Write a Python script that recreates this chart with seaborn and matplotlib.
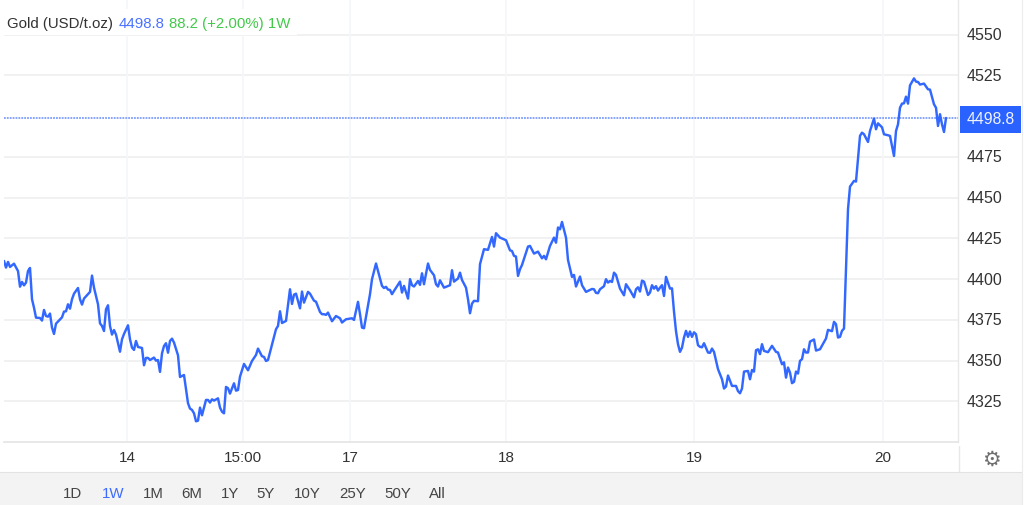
import matplotlib
matplotlib.use("Agg")
import matplotlib.pyplot as plt
from matplotlib.patches import Rectangle
from matplotlib.transforms import ScaledTranslation
import pandas as pd
import seaborn as sns

# chart data, bar number on the ordinal time axis and price
bars = [0, 1, 2, 3, 5, 7, 8, 9, 10, 11, 12, 13, 14, 15, 16, 18, 19, 20, 21, 22, 23, 24, 25, 26, 27, 29, 30, 31, 32, 33, 34, 35, 37, 38, 39, 40, 43, 44, 45, 47, 48, 49, 50, 51, 52, 53, 54, 55, 56, 58, 59, 60, 62, 63, 64, 65, 66, 67, 69, 70, 71, 72, 73, 75, 76, 77, 78, 79, 80, 81, 82, 83, 84, 85, 87, 88, 90, 92, 93, 94, 95, 96, 97, 98, 99, 101, 102, 103, 104, 105, 107, 108, 109, 110, 111, 112, 113, 115, 116, 117, 118, 120, 122, 124, 126, 127, 129, 130, 131, 132, 136, 137, 138, 139, 141, 143, 144, 145, 146, 148, 149, 150, 152, 153, 155, 156, 158, 159, 160, 161, 162, 164, 166, 168,
        169, 171, 174, 175, 177, 178, 179, 180, 183, 184, 186, 187, 189, 190, 191, 192, 193, 194, 195, 198, 199, 200, 202, 203, 204, 205, 207, 208, 209, 210, 212, 213, 215, 216, 217, 218, 220, 223, 224, 225, 227, 228, 229, 231, 232, 233, 234, 235, 237, 238, 240, 242, 244, 245, 246, 248, 251, 253, 254, 255, 256, 257, 258, 259, 262, 263, 265, 267, 269, 270, 271, 273, 275, 276, 277, 278, 279, 281, 282, 284, 285, 286, 288, 289, 291, 294, 295, 296, 297, 298, 300, 301, 302, 303, 304, 305, 306, 308, 310, 311, 313, 315, 316, 317, 318, 319, 320, 322, 323, 324, 325, 326, 327, 328, 329, 330, 331, 333, 334,
        335, 336, 337, 338, 339, 340, 341, 342, 343, 344, 345, 346, 347, 348, 349, 350, 352, 353, 354, 355, 357, 359, 360, 361, 362, 364, 366, 367, 368, 369, 370, 372, 373, 374, 375, 376, 377, 378, 379, 380, 382, 384, 386, 387, 389, 390, 391, 392, 393, 394, 395, 396, 397, 398, 399, 400, 401, 402, 403, 405, 406, 408, 411, 412, 414, 415, 416, 417, 418, 419, 420, 421,
        422, 423, 425, 426, 428, 429, 430, 432, 433, 435, 436, 437, 439, 440, 442, 443, 445, 446, 447, 448, 449, 450, 451, 452, 453, 455, 456, 457, 458, 460, 462, 463, 465, 466, 467, 468, 469, 470, 471]
prices = [4411.1, 4407.0, 4410.5, 4407.4, 4409.4, 4404.9, 4395.3, 4398.2, 4396.1, 4397.8, 4404.9, 4406.8, 4387.6, 4382.4, 4376.3, 4376.1, 4374.5, 4381.0, 4377.3, 4376.9, 4378.8, 4370.2, 4366.3, 4372.6, 4373.9, 4376.5, 4380.0, 4380.2, 4384.5, 4381.8, 4387.6, 4391.0, 4394.5, 4387.6, 4384.3, 4388.0, 4392.1, 4402.1, 4394.7, 4384.5, 4372.8, 4371.2, 4368.1, 4381.4, 4383.9, 4371.2, 4365.9, 4368.7, 4365.9, 4355.4, 4363.0, 4366.3, 4371.6, 4363.0, 4357.9, 4356.5, 4362.0, 4358.3, 4357.7, 4347.1, 4351.6, 4351.6, 4350.3, 4351.8, 4349.9, 4350.3, 4343.0, 4354.4, 4358.9, 4360.6, 4354.8, 4362.0, 4363.4, 4361.0, 4353.2, 4339.9, 4341.1, 4323.8, 4320.5, 4319.7, 4317.6, 4312.7, 4313.1, 4321.1, 4316.4, 4325.8, 4325.8, 4324.2, 4326.2, 4325.4, 4326.8, 4321.1, 4318.6, 4317.6, 4333.8, 4333.0, 4329.7, 4336.0, 4331.5, 4331.9, 4340.1, 4347.9, 4344.0, 4349.7, 4353.4, 4357.3, 4352.6, 4352.2, 4349.7, 4350.3, 4369.2, 4371.2, 4380.2, 4373.0, 4374.3, 4393.7, 4384.7, 4390.4, 4391.0, 4382.0, 4392.3, 4385.5, 4392.1, 4391.0, 4386.7, 4386.1, 4379.8, 4378.4, 4378.4, 4378.0, 4379.4, 4374.1, 4377.3, 4375.9,
          4373.3, 4375.3, 4375.9, 4374.9, 4386.0, 4378.4, 4370.2, 4369.8, 4390.7, 4399.9, 4409.5, 4405.0, 4395.8, 4394.5, 4395.2, 4393.5, 4393.3, 4390.7, 4392.7, 4398.4, 4391.7, 4395.8, 4388.0, 4399.9, 4396.2, 4395.4, 4398.8, 4396.4, 4403.5, 4396.8, 4409.5, 4405.6, 4402.3, 4396.8, 4395.4, 4399.2, 4394.7, 4396.2, 4405.4, 4398.4, 4400.3, 4403.9, 4399.4, 4394.7, 4387.6, 4379.0, 4384.9, 4386.6, 4386.4, 4409.1, 4418.3, 4417.9, 4425.8, 4419.9, 4428.1, 4425.4, 4423.8, 4417.6, 4417.2, 4414.2, 4413.8, 4401.9, 4406.0, 4408.6, 4419.9, 4420.3, 4415.6, 4416.8, 4412.7, 4414.2, 4412.1, 4420.3, 4425.4, 4422.3, 4431.6, 4430.5, 4435.0, 4425.4, 4411.7, 4401.3, 4402.5, 4395.4, 4401.5, 4396.2, 4392.1, 4393.9, 4393.7, 4391.5, 4391.3, 4393.7, 4395.6, 4399.9, 4397.8, 4398.8, 4398.2, 4403.9, 4402.5, 4394.1, 4390.0, 4396.8, 4393.1, 4388.8, 4393.7, 4394.9, 4392.3, 4399.0, 4398.4, 4390.2, 4391.7, 4396.2, 4394.1, 4395.6, 4392.9, 4394.7, 4396.2, 4389.6, 4401.3, 4394.1, 4394.3,
          4380.0, 4368.0, 4360.0, 4355.3, 4357.9, 4364.1, 4368.2, 4364.5, 4367.8, 4364.5, 4367.3, 4366.1, 4359.4, 4358.4, 4358.1, 4360.6, 4354.9, 4354.7, 4357.3, 4355.3, 4344.7, 4338.5, 4332.8, 4334.0, 4340.8, 4334.4, 4334.4, 4331.2, 4329.9, 4332.8, 4343.2, 4343.6, 4338.5, 4344.2, 4343.2, 4356.3, 4356.9, 4353.9, 4360.0, 4355.9, 4355.1, 4359.0, 4355.3, 4354.9, 4347.7, 4348.9, 4339.5, 4345.7, 4342.6, 4336.1, 4336.9, 4343.2, 4342.0, 4349.8, 4350.8, 4356.9, 4354.9, 4354.9, 4361.6, 4362.9, 4356.1, 4356.9, 4363.5, 4368.8, 4368.0, 4373.7, 4372.3, 4364.1, 4364.5, 4368.2, 4369.6, 4406.0,
          4442.8, 4456.7, 4460.2, 4459.8, 4487.8, 4489.8, 4488.8, 4484.1, 4490.8, 4498.4, 4491.9, 4495.5, 4493.1, 4488.8, 4488.2, 4487.8, 4475.5, 4490.8, 4494.9, 4505.1, 4507.6, 4507.8, 4511.9, 4507.6, 4518.8, 4523.1, 4521.1, 4520.9, 4519.3, 4519.9, 4516.4, 4516.2, 4507.2, 4505.1, 4493.9, 4501.1, 4494.9, 4490.2, 4498.8]

y_ticks = [4325, 4350, 4375, 4400, 4425, 4450, 4475, 4525, 4550]
y_labels = ["4325", "4350", "4375", "4400", "4425", "4450", "4475", "4525", "4550"]
x_tick_bars = [61.7, 119.7, 173, 251, 345, 439.6]
x_labels = ["14", "15:00", "17", "18", "19", "20"]
last_price = 4498.8
ranges = ["1D", "1W", "1M", "6M", "1Y", "5Y", "10Y", "25Y", "50Y", "All"]
range_x = [73, 113, 153, 191.5, 230, 266, 307.5, 352.5, 397.5, 437.5]

W, H = 1024, 506
LINE = "#3268ff"
TEXT = "#333333"
GRID = "#f0f0f0"


def px(x, y):
    return x / W, 1 - y / H


sns.set_style("white")
plt.rcParams["font.family"] = ["Liberation Sans", "DejaVu Sans"]

fig = plt.figure(figsize=(W / 100, H / 100), dpi=100)
ax = fig.add_axes([4 / W, (H - 443) / H, 954 / W, 443 / H])

df = pd.DataFrame({"bar": bars, "price": prices})
sns.lineplot(data=df, x="bar", y="price", ax=ax, color=LINE, linewidth=1.75,
             estimator=None, errorbar=None, zorder=5)

ax.set_xlim(0, 477)
ax.set_ylim(4300, 4571.8)
ax.set_xlabel("")
ax.set_ylabel("")

for level in y_ticks:
    ax.axhline(level, color=GRID, linewidth=1.3, zorder=1)
for t in x_tick_bars:
    ax.axvline(t, color="#f4f6f9", linewidth=1.2, zorder=1)
ax.axhline(last_price, color="#7d9dff", linewidth=1.3, linestyle=(0, (1, 0.6)), zorder=4)

ax.set_xticks(x_tick_bars)
ax.set_xticklabels(x_labels, fontsize=11, color=TEXT)
ax.yaxis.tick_right()
ax.set_yticks(y_ticks)
ax.set_yticklabels(y_labels, fontsize=11.5, color=TEXT)
ax.tick_params(axis="both", length=0)
ax.tick_params(axis="x", pad=6)
ax.tick_params(axis="y", pad=6)

# labels sit a bit above their gridlines in the original
up = ScaledTranslation(0, 1.5 / 100, fig.dpi_scale_trans)
for label in ax.get_yticklabels():
    label.set_transform(label.get_transform() + up)

for side in ["top", "left"]:
    ax.spines[side].set_visible(False)
ax.spines["bottom"].set_color("#e6e6e6")
ax.spines["bottom"].set_linewidth(1.3)
ax.spines["right"].set_color("#e8e8e8")
ax.spines["right"].set_linewidth(1.0)

# white strip behind the header text, hides the top gridline
x0, y0 = px(0, 36)
fig.add_artist(Rectangle((x0, y0), 297 / W, 26 / H, transform=fig.transFigure,
                         facecolor="white", edgecolor="none", zorder=6))
header = [(7, "Gold (USD/t.oz)", "#333333"), (119, "4498.8", "#4a72ff"),
          (169, "88.2 (+2.00%) 1W", "#43c94a")]
for x, s, c in header:
    fig.text(*px(x, 24), s, fontsize=10.8, color=c, va="center", ha="left", zorder=7)

# last price tag
x0, y0 = px(960, 134)
fig.add_artist(Rectangle((x0, y0), 61 / W, 27 / H, transform=fig.transFigure,
                         facecolor="#2962ff", edgecolor="none", zorder=6))
fig.text(*px(990.5, 120), f"{last_price}", fontsize=11.3, color="#f0f3ff",
         va="center", ha="center", zorder=7)

# right axis runs down to the range bar, range bar along the bottom
fig.add_artist(plt.Line2D([958.5 / W, 958.5 / W], [1 - 447 / H, 1 - 473 / H],
                          color="#e8e8e8", linewidth=1.0))
x0, y0 = px(0, 506)
fig.add_artist(Rectangle((x0, y0), 1022 / W, 33 / H, transform=fig.transFigure,
                         facecolor="#f3f3f3", edgecolor="none"))
fig.add_artist(plt.Line2D([0, 1022 / W], [1 - 473 / H, 1 - 473 / H],
                          color="#e2e2e2", linewidth=0.8))
fig.add_artist(plt.Line2D([1022 / W, 1022 / W], [0, 1],
                          color="#ececec", linewidth=0.8))
for x, s in zip(range_x, ranges):
    fig.text(*px(x, 494), s, fontsize=10.8, ha="center", va="center",
             color="#3d6bff" if s == "1W" else "#444444")

fig.text(*px(991, 460), "\u2699", family="DejaVu Sans", fontsize=15, color="#707070",
         ha="center", va="center")

fig.savefig("out.png", dpi=100)
